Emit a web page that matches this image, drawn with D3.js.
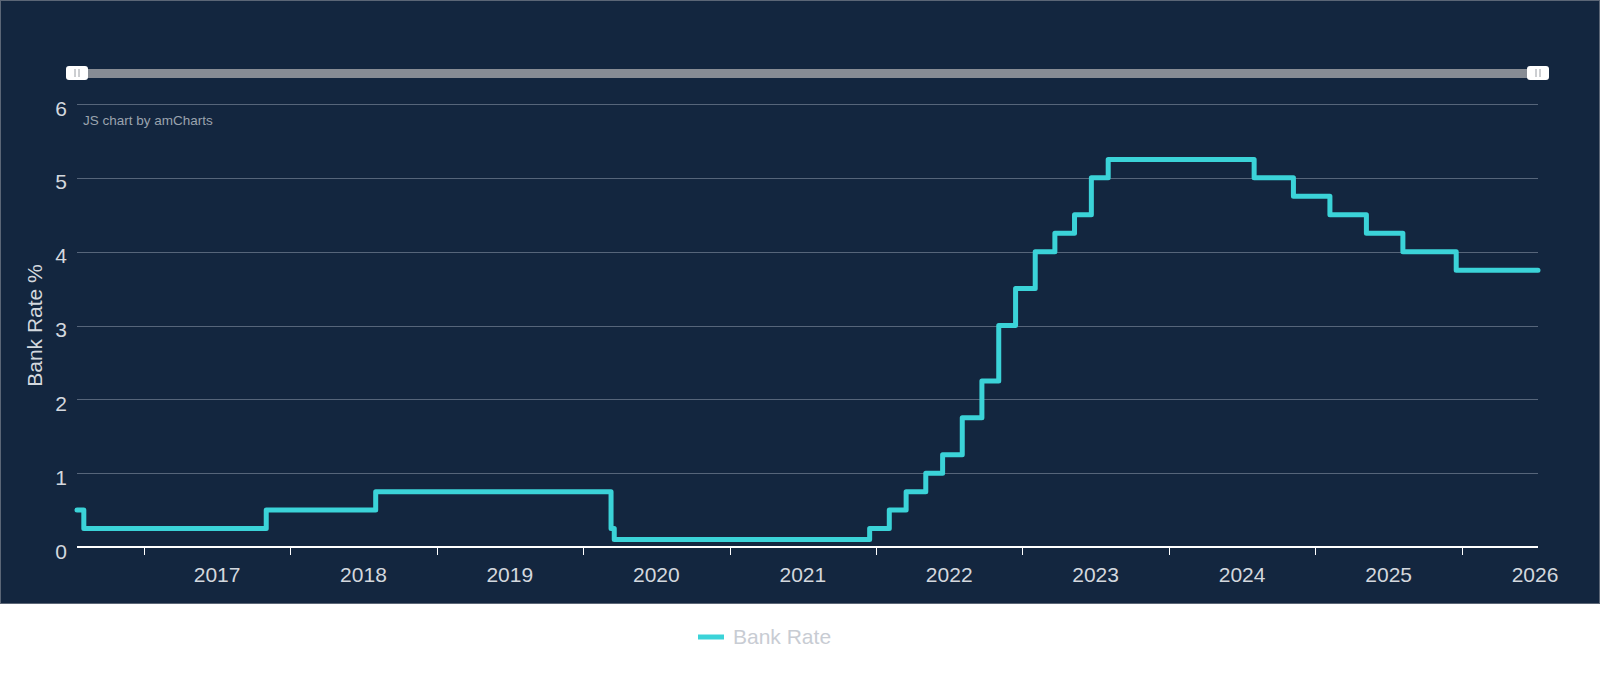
<!DOCTYPE html>
<html>
<head>
<meta charset="utf-8">
<script src="https://cdn.jsdelivr.net/npm/d3@7"></script>
<style>
  html, body { margin: 0; padding: 0; background: #ffffff; }
  svg { display: block; font-family: "Liberation Sans", Arial, sans-serif; }
</style>
</head>
<body>
<svg id="chart"></svg>
<script>
// Bank Rate change dates and the rate that applies from each date
var changeDates = [
  '2016-07-18', '2016-08-04', '2017-11-02', '2018-08-02', '2020-03-11', '2020-03-19',
  '2021-12-16', '2022-02-03', '2022-03-17', '2022-05-05', '2022-06-16', '2022-08-04',
  '2022-09-22', '2022-11-03', '2022-12-15', '2023-02-02', '2023-03-23', '2023-05-11',
  '2023-06-22', '2023-08-03', '2024-08-01', '2024-11-07', '2025-02-06', '2025-05-08',
  '2025-08-07', '2025-12-18', '2026-07-10'
];
var rates = [
  0.5, 0.25, 0.5, 0.75, 0.25, 0.1,
  0.25, 0.5, 0.75, 1.0, 1.25, 1.75,
  2.25, 3.0, 3.5, 4.0, 4.25, 4.5,
  5.0, 5.25, 5.0, 4.75, 4.5, 4.25,
  4.0, 3.75, 3.75
];
var yTicks = [0, 1, 2, 3, 4, 5, 6];
var yearLabels = ['2017', '2018', '2019', '2020', '2021', '2022', '2023', '2024', '2025', '2026'];
var seriesName = 'Bank Rate';
var yTitle = 'Bank Rate %';

var W = 1600, H = 684;
var plotLeft = 77, plotRight = 1538, plotTop = 104, plotBottom = 547;

var parse = d3.timeParse('%Y-%m-%d');
var data = changeDates.map(function (d, i) { return { date: parse(d), rate: rates[i] }; });

var svg = d3.select('#chart').attr('width', W).attr('height', H);

// dark panel
svg.append('rect')
  .attr('x', 0.5).attr('y', 0.5)
  .attr('width', W - 1).attr('height', 603)
  .attr('fill', '#13263f')
  .attr('stroke', '#5b6676').attr('stroke-width', 1);

var x = d3.scaleTime()
  .domain([data[0].date, data[data.length - 1].date])
  .range([plotLeft, plotRight]);

var y = d3.scaleLinear()
  .domain([0, 6])
  .range([plotBottom, plotTop]);

// gridlines
svg.append('g')
  .selectAll('line')
  .data(yTicks.filter(function (d) { return d > 0; }))
  .enter()
  .append('line')
  .attr('x1', plotLeft).attr('x2', plotRight)
  .attr('y1', function (d) { return Math.round(y(d)) + 0.5; })
  .attr('y2', function (d) { return Math.round(y(d)) + 0.5; })
  .attr('stroke', '#56657a')
  .attr('stroke-width', 1);

// y labels
svg.append('g')
  .selectAll('text')
  .data(yTicks)
  .enter()
  .append('text')
  .attr('x', 67)
  .attr('y', function (d) { return y(d) + 6; })
  .attr('text-anchor', 'end')
  .attr('dominant-baseline', 'middle')
  .attr('fill', '#d3d8de')
  .attr('font-size', 21)
  .text(function (d) { return d; });

// y title
svg.append('text')
  .attr('transform', 'translate(36,' + ((plotTop + plotBottom) / 2) + ') rotate(-90)')
  .attr('text-anchor', 'middle')
  .attr('dominant-baseline', 'middle')
  .attr('fill', '#d3d8de')
  .attr('font-size', 21)
  .text(yTitle);

// watermark
svg.append('text')
  .attr('x', 83).attr('y', 121)
  .attr('dominant-baseline', 'middle')
  .attr('fill', '#9aa3ae')
  .attr('font-size', 13.5)
  .text('JS chart by amCharts');

// x axis with ticks at year starts, labels centred in each year
var yearStarts = yearLabels.map(function (d) { return parse(d + '-01-01'); });
var xAxis = svg.append('g');
xAxis.append('line')
  .attr('x1', plotLeft).attr('x2', plotRight)
  .attr('y1', plotBottom).attr('y2', plotBottom)
  .attr('stroke', '#ffffff').attr('stroke-width', 2);
xAxis.selectAll('line.tick')
  .data(yearStarts)
  .enter()
  .append('line')
  .attr('class', 'tick')
  .attr('x1', function (d) { return Math.round(x(d)) + 0.5; })
  .attr('x2', function (d) { return Math.round(x(d)) + 0.5; })
  .attr('y1', plotBottom).attr('y2', plotBottom + 8)
  .attr('stroke', '#ffffff').attr('stroke-width', 1);
xAxis.selectAll('text')
  .data(yearStarts)
  .enter()
  .append('text')
  .attr('x', function (d) { return x(d) + (x(d3.timeYear.offset(d, 1)) - x(d)) / 2; })
  .attr('y', 576)
  .attr('text-anchor', 'middle')
  .attr('dominant-baseline', 'middle')
  .attr('fill', '#d3d8de')
  .attr('font-size', 21)
  .text(function (d, i) { return yearLabels[i]; });

// rate line
var line = d3.line()
  .curve(d3.curveStepAfter)
  .x(function (d) { return x(d.date); })
  .y(function (d) { return y(d.rate); });

svg.append('path')
  .datum(data)
  .attr('fill', 'none')
  .attr('stroke', '#3bd3d8')
  .attr('stroke-width', 5)
  .attr('stroke-linejoin', 'round')
  .attr('stroke-linecap', 'round')
  .attr('d', line);

// scrollbar
var sb = svg.append('g');
sb.append('rect')
  .attr('x', plotLeft).attr('y', 69)
  .attr('width', plotRight - plotLeft).attr('height', 9)
  .attr('fill', '#878c94');
[plotLeft, plotRight].forEach(function (cx) {
  var g = sb.append('g').attr('transform', 'translate(' + cx + ',73)');
  g.append('rect')
    .attr('x', -11).attr('y', -7)
    .attr('width', 22).attr('height', 14)
    .attr('rx', 3)
    .attr('fill', '#ffffff');
  [-2, 2].forEach(function (dx) {
    g.append('line')
      .attr('x1', dx).attr('x2', dx)
      .attr('y1', -4).attr('y2', 4)
      .attr('stroke', '#9a9ea4').attr('stroke-width', 1);
  });
});

// legend
var lg = svg.append('g').attr('transform', 'translate(698,637)');
lg.append('line')
  .attr('x1', 0).attr('x2', 26)
  .attr('y1', 0).attr('y2', 0)
  .attr('stroke', '#3bd3d8').attr('stroke-width', 5);
lg.append('text')
  .attr('x', 35).attr('y', 1)
  .attr('dominant-baseline', 'middle')
  .attr('fill', '#c8ccd3')
  .attr('font-size', 21)
  .text(seriesName);
</script>
</body>
</html>
